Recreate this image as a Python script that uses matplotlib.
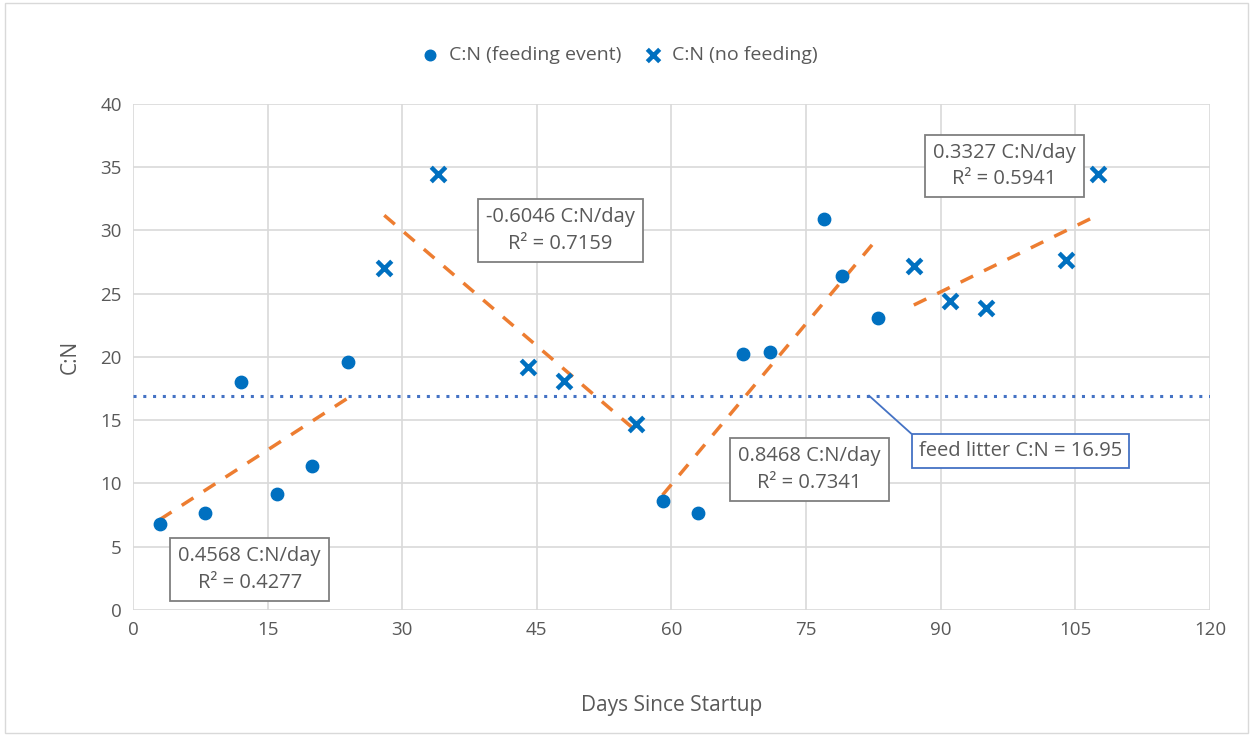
import numpy as np
import matplotlib
matplotlib.use("Agg")
import matplotlib.pyplot as plt

plt.rcParams['font.family'] = ['Open Sans', 'DejaVu Sans']

# Data
feed_days = [3, 8, 12, 16, 20, 24, 59, 63, 68, 71, 77, 79, 83]
feed_cn = [6.8, 7.7, 18.0, 9.2, 11.4, 19.6, 8.6, 7.7, 20.2, 20.4, 30.9, 26.4, 23.1]
nofeed_days = [28, 34, 44, 48, 56, 87, 91, 95, 104, 107.5]
nofeed_cn = [27.0, 34.5, 19.2, 18.1, 14.7, 27.2, 24.4, 23.9, 27.7, 34.5]
litter_cn = 16.95

# trend segments
seg1_x, seg1_y = feed_days[:6], feed_cn[:6]
seg2_x, seg2_y = nofeed_days[:5], nofeed_cn[:5]
seg3_x, seg3_y = feed_days[6:], feed_cn[6:]
seg4_x, seg4_y = nofeed_days[5:], nofeed_cn[5:]
trend_labels = ["0.4568 C:N/day\nR² = 0.4277", "-0.6046 C:N/day\nR² = 0.7159",
                "0.8468 C:N/day\nR² = 0.7341", "0.3327 C:N/day\nR² = 0.5941"]
label_pos = [(13.0, 3.2), (47.6, 30.0), (75.4, 11.1), (97.1, 35.1)]

blue = '#0070C0'
orange = '#ED7D31'
txt = '#595959'

fig = plt.figure(figsize=(12.53, 7.36), dpi=100)
fig.patch.set_facecolor('white')
ax = fig.add_axes([0.1061, 0.1712, 0.8596, 0.6875])

ax.set_xlim(0, 120)
ax.set_ylim(0, 40)
ax.set_xticks(np.arange(0, 121, 15))
ax.set_yticks(np.arange(0, 41, 5))
ax.grid(True, color='#D9D9D9', linewidth=1.2)
ax.set_axisbelow(True)
for s in ax.spines.values():
    s.set_visible(False)
ax.tick_params(length=0, labelsize=13.5, colors=txt, pad=8)

# trendlines
for sx, sy in [(seg1_x, seg1_y), (seg2_x, seg2_y), (seg3_x, seg3_y), (seg4_x, seg4_y)]:
    c = np.polyfit(sx, sy, 1)
    xs = np.array([min(sx), max(sx)])
    ax.plot(xs, np.polyval(c, xs), color=orange, linestyle=(0, (4, 3.5)), linewidth=2.5, zorder=2)

ax.axhline(litter_cn, color='#4472C4', linestyle=(0, (1, 2.2)), linewidth=2.2, zorder=2)

ax.scatter(feed_days, feed_cn, s=80, color=blue, marker='o', zorder=3, label='C:N (feeding event)')
ax.scatter(nofeed_days, nofeed_cn, s=110, color=blue, marker='x', linewidths=3.2, zorder=3,
           label='C:N (no feeding)')

for lab, (px, py) in zip(trend_labels, label_pos):
    ax.text(px, py, lab, ha='center', va='center', fontsize=14.5, color=txt, linespacing=1.45,
            bbox=dict(boxstyle='square,pad=0.4', fc='white', ec='#7F7F7F', lw=1.3), zorder=5)

ax.annotate('feed litter C:N = 16.95', xy=(82.0, litter_cn), xytext=(98.9, 12.6),
            ha='center', va='center', fontsize=14.5, color=txt,
            bbox=dict(boxstyle='square,pad=0.35', fc='white', ec='#4472C4', lw=1.3),
            arrowprops=dict(arrowstyle='-', color='#4472C4', lw=1.3, shrinkA=0, shrinkB=0,
                            relpos=(0.0, 1.0)), zorder=5)

ax.set_xlabel('Days Since Startup', fontsize=15, color=txt, labelpad=40)
ax.set_ylabel('C:N', fontsize=15, color=txt, labelpad=14)

fig.legend(loc='center', bbox_to_anchor=(0.49, 0.925), ncol=2, frameon=False,
           fontsize=14, labelcolor=txt, handletextpad=0.0, columnspacing=0.6,
           markerscale=0.85)

# outer border
fig.add_artist(plt.Rectangle((0.004, 0.004), 0.992, 0.992, transform=fig.transFigure,
                             fill=False, ec='#D9D9D9', lw=1))

fig.savefig('out.png', dpi=100)
